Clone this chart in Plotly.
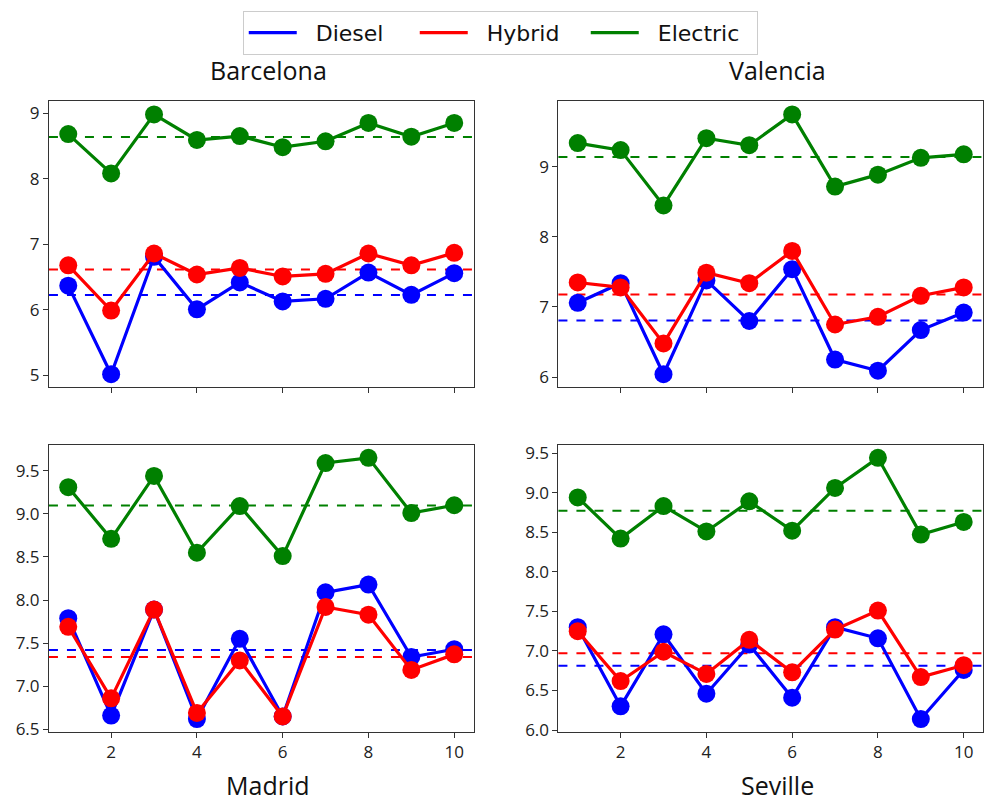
import plotly.graph_objects as go

# Run index on the x axis
runs = list(range(1, 11))

cities = ["Barcelona", "Valencia", "Madrid", "Seville"]
fuel_types = ["Diesel", "Hybrid", "Electric"]
fuel_colors = {"Diesel": "blue", "Hybrid": "red", "Electric": "green"}

# Scores per city and fuel type
barcelona_diesel = [6.37, 5.02, 6.81, 6.01, 6.42, 6.13, 6.17, 6.57, 6.23, 6.56]
barcelona_hybrid = [6.68, 5.99, 6.86, 6.54, 6.64, 6.51, 6.55, 6.86, 6.68, 6.87]
barcelona_electric = [8.68, 8.08, 8.98, 8.59, 8.65, 8.48, 8.57, 8.85, 8.64, 8.85]

valencia_diesel = [7.06, 7.34, 6.04, 7.38, 6.80, 7.54, 6.25, 6.09, 6.67, 6.92]
valencia_hybrid = [7.35, 7.28, 6.48, 7.49, 7.34, 7.80, 6.75, 6.86, 7.16, 7.28]
valencia_electric = [9.34, 9.24, 8.45, 9.41, 9.31, 9.75, 8.72, 8.89, 9.13, 9.18]

madrid_diesel = [7.79, 6.66, 7.89, 6.62, 7.55, 6.65, 8.09, 8.18, 7.34, 7.43]
madrid_hybrid = [7.69, 6.86, 7.89, 6.69, 7.30, 6.65, 7.92, 7.83, 7.19, 7.37]
madrid_electric = [9.31, 8.71, 9.44, 8.55, 9.09, 8.51, 9.59, 9.65, 9.01, 9.10]

seville_diesel = [7.30, 6.30, 7.21, 6.46, 7.08, 6.41, 7.30, 7.16, 6.14, 6.76]
seville_hybrid = [7.25, 6.62, 6.99, 6.71, 7.14, 6.73, 7.27, 7.51, 6.67, 6.82]
seville_electric = [8.94, 8.42, 8.83, 8.51, 8.89, 8.52, 9.06, 9.44, 8.47, 8.63]

scores = {
    "Barcelona": {"Diesel": barcelona_diesel, "Hybrid": barcelona_hybrid, "Electric": barcelona_electric},
    "Valencia": {"Diesel": valencia_diesel, "Hybrid": valencia_hybrid, "Electric": valencia_electric},
    "Madrid": {"Diesel": madrid_diesel, "Hybrid": madrid_hybrid, "Electric": madrid_electric},
    "Seville": {"Diesel": seville_diesel, "Hybrid": seville_hybrid, "Electric": seville_electric},
}

x_ticks = [2, 4, 6, 8, 10]

# Panel layout: (x-axis id, y-axis id, x domain, y domain, title on top?)
W, H = 984, 807
left_dom = [49 / W, 474 / W]
right_dom = [559 / W, 1.0]
top_dom = [1 - 389.5 / H, 1 - 99 / H]
bot_dom = [1 - 740 / H, 1 - 448 / H]
panels = {
    "Barcelona": ("x", "y", left_dom, top_dom, True),
    "Valencia": ("x2", "y2", right_dom, top_dom, True),
    "Madrid": ("x3", "y3", left_dom, bot_dom, False),
    "Seville": ("x4", "y4", right_dom, bot_dom, False),
}
y_dticks = {"Barcelona": 1, "Valencia": 1, "Madrid": 0.5, "Seville": 0.5}

FONT = "Open Sans, DejaVu Sans, sans-serif"
LEGEND_FONT = "DejaVu Sans, sans-serif"
AXIS_COLOR = "#333333"
TICK_SIZE = 17

fig = go.Figure()
layout = dict(
    width=W, height=H,
    margin=dict(l=0, r=0, t=0, b=0),
    paper_bgcolor="white", plot_bgcolor="white",
    font=dict(family=FONT, size=TICK_SIZE, color="#222222"),
    showlegend=True,
    shapes=[], annotations=[],
)


def padded(lo, hi, frac=0.05):
    span = hi - lo
    return [lo - frac * span, hi + frac * span]


for city in cities:
    xa, ya, xdom, ydom, title_top = panels[city]
    for fuel in fuel_types:
        vals = scores[city][fuel]
        fig.add_trace(go.Scatter(
            x=runs, y=vals, mode="lines+markers",
            line=dict(color=fuel_colors[fuel], width=3.2),
            marker=dict(color=fuel_colors[fuel], size=18),
            xaxis=xa, yaxis=ya, showlegend=False, name=fuel,
            hovertemplate=f"{city} {fuel}: %{{y:.2f}}<extra></extra>",
        ))
        mean_val = sum(vals) / len(vals)
        layout["shapes"].append(dict(
            type="line", xref=f"{xa} domain", yref=ya,
            x0=0, x1=1, y0=mean_val, y1=mean_val,
            line=dict(color=fuel_colors[fuel], width=2, dash="dash"),
            layer="below",
        ))

    all_vals = [v for f in fuel_types for v in scores[city][f]]
    yr = padded(min(all_vals), max(all_vals))
    xr = padded(min(runs), max(runs))
    sfx_x = xa[1:]
    sfx_y = ya[1:]
    layout[f"xaxis{sfx_x}"] = dict(
        domain=xdom, anchor=ya, range=xr,
        tickvals=x_ticks, showticklabels=not title_top,
        ticks="outside", ticklen=5, tickwidth=1, tickcolor=AXIS_COLOR,
        showline=True, linecolor=AXIS_COLOR, linewidth=1, mirror=True,
        showgrid=False, zeroline=False,
        tickfont=dict(size=TICK_SIZE),
    )
    layout[f"yaxis{sfx_y}"] = dict(
        domain=ydom, anchor=xa, range=yr,
        dtick=y_dticks[city], tick0=0,
        tickformat=".1f" if y_dticks[city] < 1 else "d",
        ticks="outside", ticklen=5, tickwidth=1, tickcolor=AXIS_COLOR,
        showline=True, linecolor=AXIS_COLOR, linewidth=1, mirror=True,
        showgrid=False, zeroline=False,
        tickfont=dict(size=TICK_SIZE),
    )

    # City name: above the top panels, below the bottom panels
    cx = (xdom[0] + xdom[1]) / 2 + 7 / W
    if title_top:
        layout["annotations"].append(dict(
            text=city, xref="paper", yref="paper", x=cx, y=1 - 86 / H,
            xanchor="center", yanchor="bottom", showarrow=False,
            font=dict(size=25, family=FONT, color="#111111"),
        ))
    else:
        layout["annotations"].append(dict(
            text=city, xref="paper", yref="paper", x=cx, y=1 - 774 / H,
            xanchor="center", yanchor="top", showarrow=False,
            font=dict(size=25, family=FONT, color="#111111"),
        ))

# Legend entries drawn as plain line samples
for fuel in fuel_types:
    fig.add_trace(go.Scatter(
        x=[None], y=[None], mode="lines", name="  " + fuel,
        line=dict(color=fuel_colors[fuel], width=3.2),
        showlegend=True, hoverinfo="skip",
    ))

layout["legend"] = dict(
    orientation="h", x=243 / W, y=1 - 7 / H, xanchor="left", yanchor="top",
    bordercolor="#cccccc", borderwidth=1, bgcolor="white",
    font=dict(size=22, family=LEGEND_FONT, color="#111111"),
    itemwidth=48, entrywidth=108, tracegroupgap=0,
)

fig.update_layout(**layout)
fig.write_html("out.html")
